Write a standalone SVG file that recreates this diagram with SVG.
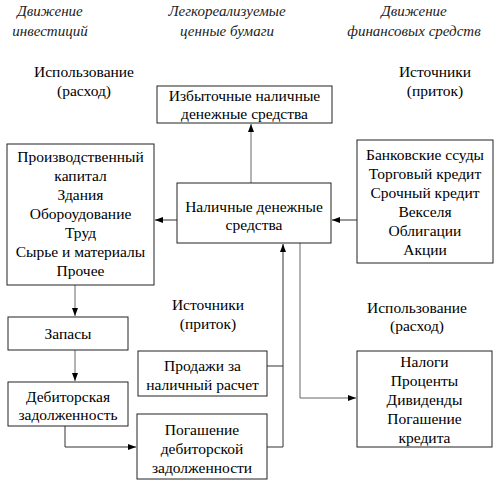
<svg xmlns="http://www.w3.org/2000/svg" width="500" height="486" viewBox="0 0 500 486" font-family="Liberation Serif, DejaVu Serif, serif">
<style>
.box{fill:#fff;stroke:#222;stroke-width:1}
.t{font-size:15.5px;fill:#000;text-anchor:middle}
.h{font-style:italic;font-size:15px;fill:#222;text-anchor:middle}
.c{fill:none;stroke:#333;stroke-width:1}
.g{fill:none;stroke:#666;stroke-width:1}
</style>
<defs>
<marker id="a" markerWidth="8" markerHeight="6" refX="8" refY="3" orient="auto" markerUnits="userSpaceOnUse">
<path d="M0,0 L8,3 L0,6 Z" fill="#000"/>
</marker>
</defs>
<rect width="500" height="486" fill="#fff"/>
<g id="headers">
<text class="h" x="50" y="16">Движение</text>
<text class="h" x="50" y="36">инвестиций</text>
<text class="h" x="227" y="16">Легкореализуемые</text>
<text class="h" x="227" y="36">ценные бумаги</text>
<text class="h" x="414" y="16">Движение</text>
<text class="h" x="414" y="36">финансовых средств</text>
</g>
<g id="labels">
<text class="t" x="84" y="77">Использование</text>
<text class="t" x="84" y="96">(расход)</text>
<text class="t" x="435" y="77">Источники</text>
<text class="t" x="435" y="96">(приток)</text>
<text class="t" x="208" y="310">Источники</text>
<text class="t" x="208" y="329">(приток)</text>
<text class="t" x="417" y="313">Использование</text>
<text class="t" x="417" y="331">(расход)</text>
</g>
<g id="connectors">
<line class="g" x1="251" y1="183" x2="251" y2="124" marker-end="url(#a)"/>
<line class="c" x1="177" y1="220" x2="155" y2="220" marker-end="url(#a)"/>
<line class="c" x1="357" y1="220" x2="332" y2="220" marker-end="url(#a)"/>
<line class="g" x1="75" y1="285" x2="75" y2="316" marker-end="url(#a)"/>
<line class="g" x1="75" y1="350" x2="75" y2="381" marker-end="url(#a)"/>
<polyline class="c" points="65,426 65,447 136,447" marker-end="url(#a)"/>
<line class="c" x1="267" y1="366" x2="283" y2="366"/>
<polyline class="c" points="267,447 283,447 283,244" marker-end="url(#a)"/>
<polyline class="g" points="300,243 300,398 356,398" marker-end="url(#a)"/>
</g>
<g id="excess">
<rect class="box" x="157" y="86" width="175" height="37"/>
<text class="t" x="244.5" y="101">Избыточные наличные</text>
<text class="t" x="244.5" y="119">денежные средства</text>
</g>
<g id="cash">
<rect class="box" x="177" y="183" width="154" height="60"/>
<text class="t" x="254" y="212">Наличные денежные</text>
<text class="t" x="254" y="230">средства</text>
</g>
<g id="production">
<rect class="box" x="7" y="144" width="147" height="141"/>
<text class="t" x="80.5" y="162">Производственный</text>
<text class="t" x="80.5" y="181">капитал</text>
<text class="t" x="80.5" y="200">Здания</text>
<text class="t" x="80.5" y="219">Обороудование</text>
<text class="t" x="80.5" y="238">Труд</text>
<text class="t" x="80.5" y="257">Сырье и материалы</text>
<text class="t" x="80.5" y="276">Прочее</text>
</g>
<g id="sources">
<rect class="box" x="357" y="140" width="136" height="123"/>
<text class="t" x="425" y="160">Банковские ссуды</text>
<text class="t" x="425" y="179">Торговый кредит</text>
<text class="t" x="425" y="198">Срочный кредит</text>
<text class="t" x="425" y="217">Векселя</text>
<text class="t" x="425" y="236">Облигации</text>
<text class="t" x="425" y="255">Акции</text>
</g>
<g id="stocks">
<rect class="box" x="8" y="317" width="120" height="33"/>
<text class="t" x="68" y="339">Запасы</text>
</g>
<g id="receivables">
<rect class="box" x="8" y="382" width="120" height="44"/>
<text class="t" x="68" y="402">Дебиторская</text>
<text class="t" x="68" y="420">задолженность</text>
</g>
<g id="sales">
<rect class="box" x="138" y="351" width="129" height="45"/>
<text class="t" x="202.5" y="371">Продажи за</text>
<text class="t" x="202.5" y="390">наличный расчет</text>
</g>
<g id="repayment">
<rect class="box" x="137" y="414" width="130" height="65"/>
<text class="t" x="202" y="435">Погашение</text>
<text class="t" x="202" y="454">дебиторской</text>
<text class="t" x="202" y="473">задолженности</text>
</g>
<g id="uses">
<rect class="box" x="357" y="351" width="135" height="96"/>
<text class="t" x="424.5" y="367">Налоги</text>
<text class="t" x="424.5" y="386">Проценты</text>
<text class="t" x="424.5" y="405">Дивиденды</text>
<text class="t" x="424.5" y="424">Погашение</text>
<text class="t" x="424.5" y="443">кредита</text>
</g>
</svg>
